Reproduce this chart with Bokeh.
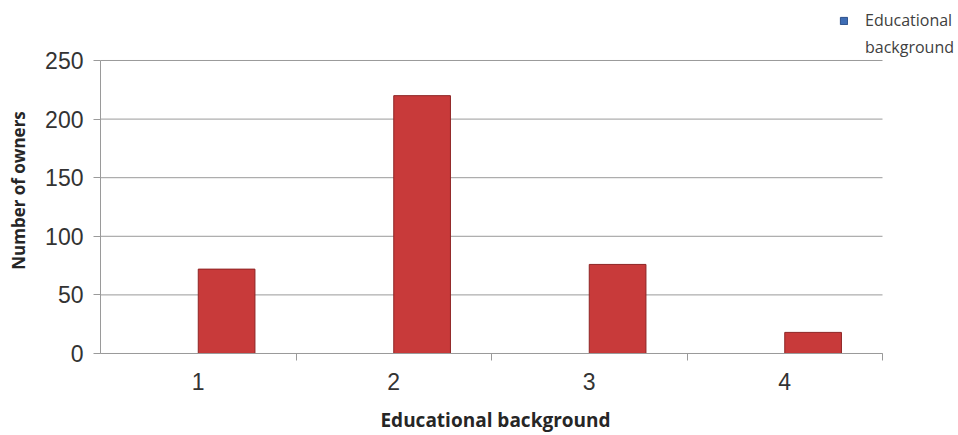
import math
from bokeh.plotting import figure
from bokeh.models import Range1d, FixedTicker, Legend, LegendItem, ColumnDataSource, Label
from bokeh.transform import dodge
from bokeh.embed import file_html
from bokeh.resources import INLINE

categories = [1, 2, 3, 4]
tick_labels = ["1", "2", "3", "4"]
owners = [72, 220, 76, 18]
legend_values = [math.nan, math.nan, math.nan, math.nan]   # legend series shown with no bars
legend_line1 = "Educational"
legend_line2 = "background"
y_ticks = [0, 50, 100, 150, 200, 250]
x_title = "Educational background"
y_title = "Number of owners"

src = ColumnDataSource(dict(x=categories, y=owners))
leg_src = ColumnDataSource(dict(x=categories, y=legend_values))
grid_src = ColumnDataSource(dict(y=y_ticks))

x_lo, x_hi = 0.5, 4.5
y_lo, y_hi = 0, 250
# the frame covers the whole canvas; axes are pinned inside it
p = figure(width=958, height=435, output_backend="svg", toolbar_location=None,
           x_range=Range1d(-0.0115, 4.8887), y_range=Range1d(-69.97, 301.19),
           min_border=0)
p.outline_line_color = None
p.background_fill_color = "white"
p.border_fill_color = "white"

# horizontal grid lines limited to the category span
p.segment(x0=x_lo, x1=x_hi, y0="y", y1="y", source=grid_src,
          line_color="#9A9A9A", line_width=1)

r_leg = p.vbar(x=dodge("x", -0.145, range=p.x_range), top="y", width=0.29, source=leg_src,
               fill_color="#3E6DB5", line_color="#2B4F8A")
r_leg2 = p.vbar(x=dodge("x", -0.145, range=p.x_range), top="y", width=0.29, source=leg_src,
                fill_alpha=0, line_alpha=0)

p.vbar(x=dodge("x", 0.145, range=p.x_range), top="y", width=0.29, source=src,
       fill_color="#C83A3A", line_color="#8E2424", line_width=1)

p.xgrid.grid_line_color = None
p.ygrid.grid_line_color = None

# y axis
p.yaxis.fixed_location = x_lo
p.yaxis.bounds = (y_lo, y_hi)
p.yaxis.ticker = FixedTicker(ticks=y_ticks)
p.yaxis.axis_line_color = "#9A9A9A"
p.yaxis.major_tick_line_color = "#9A9A9A"
p.yaxis.major_tick_out = 7
p.yaxis.major_tick_in = 0
p.yaxis.minor_tick_line_color = None
p.yaxis.major_label_text_font = "Liberation Sans"
p.yaxis.major_label_text_font_size = "23px"
p.yaxis.major_label_text_color = "#333333"
p.yaxis.major_label_standoff = 10

# x axis
p.xaxis.fixed_location = y_lo
p.xaxis.bounds = (x_lo, x_hi)
p.xaxis.ticker = FixedTicker(ticks=categories, minor_ticks=[1.5, 2.5, 3.5, 4.5])
p.xaxis.major_label_overrides = {c: t for c, t in zip(categories, tick_labels)}
p.xaxis.axis_line_color = "#9A9A9A"
p.xaxis.major_tick_line_color = None
p.xaxis.major_tick_out = 0
p.xaxis.major_tick_in = 0
p.xaxis.minor_tick_line_color = "#9A9A9A"
p.xaxis.minor_tick_out = 7
p.xaxis.minor_tick_in = 0
p.xaxis.major_label_text_font = "Liberation Sans"
p.xaxis.major_label_text_font_size = "23px"
p.xaxis.major_label_text_color = "#333333"
p.xaxis.major_label_standoff = 13

# axis titles
p.add_layout(Label(x=(x_lo + x_hi) / 2, y=16, y_units="screen", x_offset=4, text=x_title,
                   text_align="center", text_baseline="middle",
                   text_font="Open Sans", text_font_style="bold", text_font_size="19px",
                   text_color="#262626"))
p.add_layout(Label(x=18, y=245, x_units="screen", y_units="screen", angle=math.pi / 2,
                   text=y_title, text_align="center", text_baseline="middle",
                   text_font="Open Sans", text_font_style="bold", text_font_size="17px",
                   text_color="#262626"))

legend = Legend(items=[LegendItem(label=legend_line1, renderers=[r_leg]),
                       LegendItem(label=legend_line2, renderers=[r_leg2])],
                location=(839, 377), orientation="vertical")
legend.background_fill_alpha = 0
legend.border_line_color = None
legend.padding = 0
legend.margin = 0
legend.spacing = 5
legend.glyph_width = 9
legend.glyph_height = 9
legend.label_standoff = 17
legend.label_text_font = "Open Sans"
legend.label_text_font_size = "16px"
legend.label_text_color = "#404040"
p.add_layout(legend, "center")

open("out.html", "w").write(file_html(p, INLINE))
